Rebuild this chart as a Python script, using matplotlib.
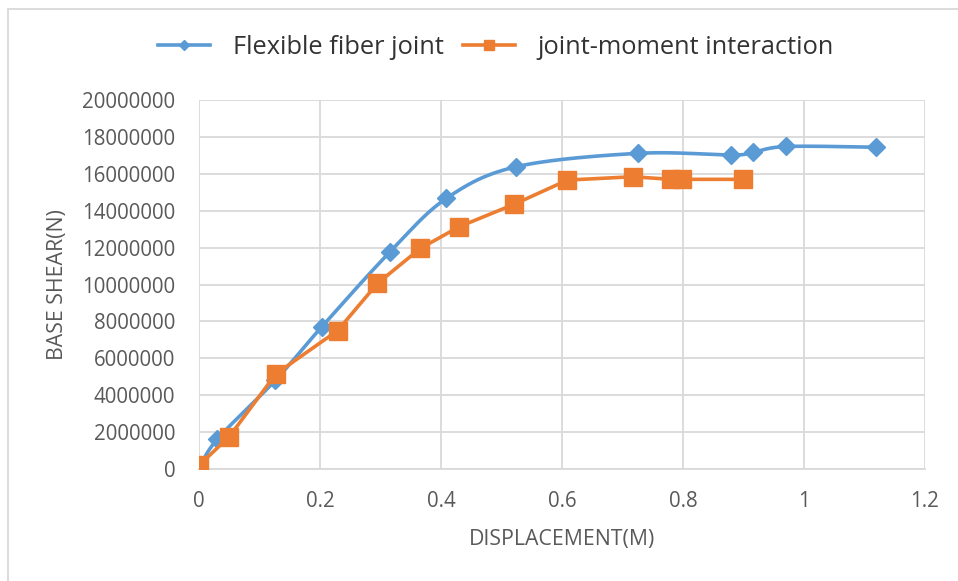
import numpy as np
import matplotlib
matplotlib.use("Agg")
import matplotlib.pyplot as plt
from matplotlib.lines import Line2D

# base shear vs displacement, two joint models
flex_x = [0.0, 0.030, 0.126, 0.203, 0.316, 0.409, 0.524, 0.726, 0.880, 0.915, 0.971, 1.119]
flex_y = [0, 1610000, 4800000, 7710000, 11780000, 14670000, 16380000, 17110000,
          17020000, 17160000, 17480000, 17440000]

jm_x = [0.0, 0.050, 0.127, 0.229, 0.295, 0.366, 0.430, 0.521, 0.609, 0.717, 0.780, 0.799, 0.899]
jm_y = [200000, 1750000, 5150000, 7500000, 10060000, 11960000, 13130000, 14350000,
        15660000, 15840000, 15700000, 15700000, 15700000]

x_ticks = [0, 0.2, 0.4, 0.6, 0.8, 1, 1.2]
y_ticks = list(range(0, 20000001, 2000000))

BLUE = "#5b9bd5"
ORANGE = "#ed7d31"
GREY = "#595959"
GRID = "#d9d9d9"

plt.rcParams["font.family"] = ["Open Sans", "DejaVu Sans"]


def smooth(xs, ys, xr, yr, n=30):
    # bezier smoothing like spreadsheet "smoothed line" (control points at 1/6)
    p = np.column_stack([np.asarray(xs) / xr, np.asarray(ys) / yr])
    out = [p[0]]
    for i in range(len(p) - 1):
        p0 = p[i - 1] if i > 0 else p[i]
        p3 = p[i + 2] if i + 2 < len(p) else p[i + 1]
        c1 = p[i] + (p[i + 1] - p0) / 6
        c2 = p[i + 1] - (p3 - p[i]) / 6
        t = np.linspace(0, 1, n)[1:, None]
        seg = ((1 - t) ** 3 * p[i] + 3 * (1 - t) ** 2 * t * c1
               + 3 * (1 - t) * t ** 2 * c2 + t ** 3 * p[i + 1])
        out.extend(seg)
    out = np.array(out)
    return out[:, 0] * xr, out[:, 1] * yr


fig = plt.figure(figsize=(9.58, 5.81), dpi=100)
ax = fig.add_axes([199 / 958, 1 - 469 / 581, 726 / 958, 369 / 581])

sx, sy = smooth(flex_x, flex_y, 1.2, 2e7)
ax.plot(sx, sy, color=BLUE, lw=2.6, solid_capstyle="round", zorder=3)
ax.plot(flex_x, flex_y, ls="none", marker="D", ms=9.5, color=BLUE, zorder=4)
ax.plot(jm_x, jm_y, color=ORANGE, lw=2.6, marker="s", ms=12.5, zorder=5)

ax.set_xlim(0, 1.2)
ax.set_ylim(0, 20000000)
ax.set_xticks(x_ticks)
ax.set_xticklabels([f"{v:g}" for v in x_ticks])
ax.set_yticks(y_ticks)
ax.set_yticklabels([str(v) for v in y_ticks])
ax.grid(True, color=GRID, lw=1.3)
ax.set_axisbelow(True)
for s in ["top", "right", "left"]:
    ax.spines[s].set_visible(False)
ax.spines["bottom"].set_color(GRID)
ax.spines["bottom"].set_linewidth(1.3)
ax.tick_params(length=0, labelsize=14.8, labelcolor=GREY)
ax.tick_params(axis="x", pad=16)
ax.tick_params(axis="y", pad=17)
for lab in ax.get_xticklabels() + ax.get_yticklabels():
    lab.set_clip_on(False)

fig.text(562 / 958, 1 - 540 / 581, "DISPLACEMENT(M)", ha="center", va="center",
         fontsize=15.3, color=GREY)
fig.text(58 / 958, 1 - 285 / 581, "BASE SHEAR(N)", ha="center", va="center",
         rotation=90, fontsize=15.3, color=GREY)

handles = [Line2D([], [], color=BLUE, lw=2.6, marker="D", ms=5.5),
           Line2D([], [], color=ORANGE, lw=2.6, marker="s", ms=7)]
fig.legend(handles, ["Flexible fiber joint", "joint-moment interaction"],
           loc="center", bbox_to_anchor=(496 / 958, 1 - 47 / 581), ncol=2,
           frameon=False, fontsize=18.3, handlelength=2.05, columnspacing=0.75,
           handletextpad=0.9, labelcolor="#333333")

# outer chart frame
fig.add_artist(Line2D([8 / 958, 8 / 958], [0, 1 - 9 / 581], transform=fig.transFigure,
                      color=GRID, lw=1.3))
fig.add_artist(Line2D([8 / 958, 1], [1 - 9 / 581, 1 - 9 / 581], transform=fig.transFigure,
                      color=GRID, lw=1.3))

fig.savefig("out.png", dpi=100)
